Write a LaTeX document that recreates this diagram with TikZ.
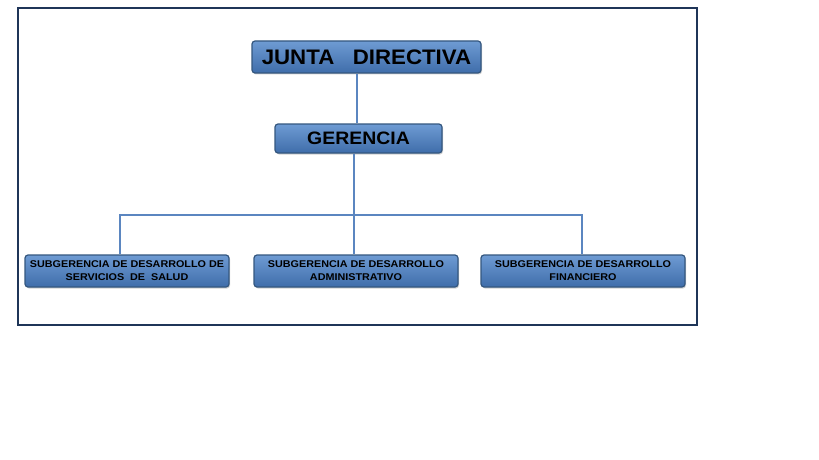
\documentclass[tikz,border=0pt]{standalone}
\usepackage{fontspec}
\setmainfont{Liberation Sans}
\usetikzlibrary{shadows}
\definecolor{framec}{HTML}{1F3558}
\definecolor{linec}{HTML}{5B86C0}
\definecolor{boxtop}{HTML}{6E9BD3}
\definecolor{boxbot}{HTML}{3F6DAA}
\definecolor{boxedge}{HTML}{34577F}
\tikzset{
  orgbox/.style={draw=boxedge, line width=1.2pt, rounded corners=3pt,
    top color=boxtop, bottom color=boxbot, inner sep=0pt,
    drop shadow={shadow xshift=1pt, shadow yshift=-1.5pt, opacity=0.35},
    font=\bfseries, align=center, text=black},
  subbox/.style={orgbox, minimum width=204pt, minimum height=32pt, font=\bfseries\fontsize{9.8}{13}\selectfont},
  conn/.style={draw=linec, line width=1.8pt}
}
\newcommand{\wide}[2]{\scalebox{#1}[1]{#2}}
\begin{document}
\begin{tikzpicture}[x=1pt,y=-1pt]
\useasboundingbox (0,0) rectangle (819,460);
\fill[white] (0,0) rectangle (819,460);
\draw[framec, line width=1.6pt] (18,8) rectangle (697,325);
\node[orgbox, minimum width=229pt, minimum height=32pt, font=\bfseries\fontsize{21}{24}\selectfont] (jd) at (366.5,57) {\wide{1.06}{JUNTA\ \ \ DIRECTIVA}};
\node[orgbox, minimum width=167pt, minimum height=29pt, font=\bfseries\fontsize{18}{21}\selectfont] (ge) at (358.5,138.5) {\wide{1.08}{GERENCIA}};
\node[subbox] (s1) at (127,271) {\wide{1.1}{SUBGERENCIA DE DESARROLLO DE}\\\wide{1.1}{SERVICIOS\ \ DE\ \ SALUD}};
\node[subbox] (s2) at (356,271) {\wide{1.1}{SUBGERENCIA DE DESARROLLO}\\\wide{1.1}{ADMINISTRATIVO}};
\node[subbox] (s3) at (583,271) {\wide{1.1}{SUBGERENCIA DE DESARROLLO}\\\wide{1.1}{FINANCIERO}};
\coordinate (bus) at (354,215);
\draw[conn] (jd.south -| 357,0) -- (ge.north -| 357,0);
\draw[conn] (ge.south -| bus) -- (bus);
\draw[conn] (s1.north -| 120,0) |- (bus) -| (s3.north -| 582,0);
\draw[conn] (bus) -- (s2.north -| bus);
\end{tikzpicture}
\end{document}
